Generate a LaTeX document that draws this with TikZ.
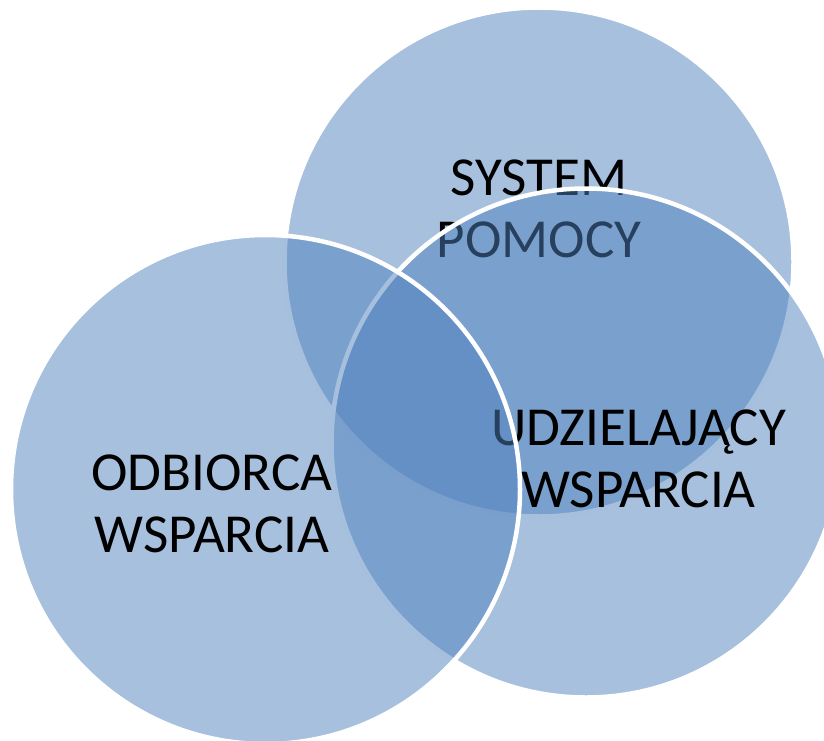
\documentclass[tikz,border=0pt]{standalone}
\usepackage{fontspec}
\setmainfont{Carlito}
\definecolor{vennblue}{HTML}{4F81BD}
\tikzset{
  venn/.style={circle, inner sep=0pt, outer sep=0pt, minimum size=509pt,
    fill=vennblue, fill opacity=0.5, draw=white, draw opacity=1, line width=4.5pt},
  vennlabel/.style={align=center, text=black, inner sep=0pt,
    font=\fontsize{55}{62}\selectfont}
}
\begin{document}
\begin{tikzpicture}[x=1pt,y=-1pt]
  \useasboundingbox (0,0) rectangle (824,741);
  \clip (0,0) rectangle (824,741);
  \node[venn] (top) at (539,262) {};
  \node[vennlabel] (toptext) at (539,209) {SYSTEM\\POMOCY};
  \node[venn] (right) at (586,443) {};
  \node[vennlabel] (righttext) at (638.5,458.5) {UDZIELAJĄCY\\WSPARCIA};
  \node[venn] (left) at (265.5,489.5) {};
  \node[vennlabel] (lefttext) at (212,504) {ODBIORCA\\WSPARCIA};
\end{tikzpicture}
\end{document}
